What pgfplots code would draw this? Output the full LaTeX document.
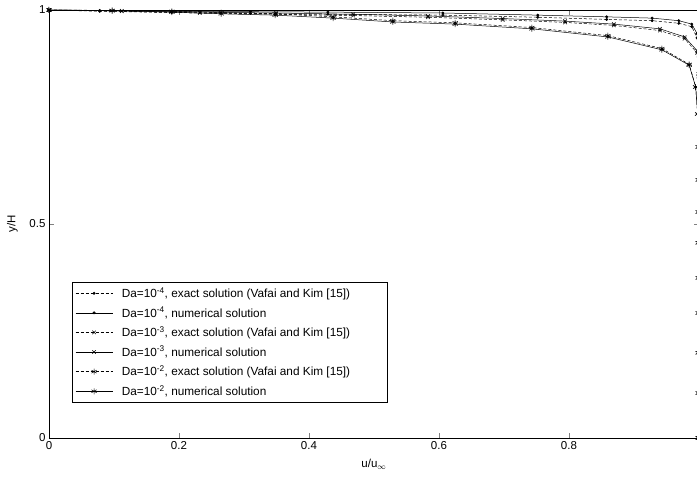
\documentclass[border=0pt]{standalone}
\usepackage{pgfplots}
\pgfplotsset{compat=1.18}
\usepackage{fontspec}
\setmainfont{Liberation Sans}
\begin{document}
\begin{tikzpicture}
\begin{axis}[
    width=650pt, height=428pt, scale only axis,
    xmin=0, xmax=1, ymin=0, ymax=1,
    xtick={0,0.2,0.4,0.6,0.8}, ytick={0,0.5,1},
    tick align=inside, major tick length=5pt,
    /pgf/number format/assume math mode=true,
    tick label style={font=\fontsize{11.5}{13}\selectfont},
    label style={font=\fontsize{11.5}{13}\selectfont},
    xlabel={u/u$_\infty$}, ylabel={y/H},
    xlabel style={at={(axis description cs:0.5,0)}, anchor=north, yshift=-21pt, inner sep=0pt},
    ylabel style={at={([xshift=-31pt]axis description cs:0,0.5)}, anchor=south, inner sep=0pt},
    axis line style={line width=0.6pt},
    clip=false,
    every axis plot/.append style={black, line width=0.5pt},
    legend style={at={(0.0354,0.082)}, anchor=south west, draw=black, line width=0.6pt,
        font=\fontsize{11.8}{13}\selectfont, row sep=4pt, inner xsep=3pt, inner ysep=3.5pt},
    legend cell align={left},
    legend image code/.code={\draw[mark repeat=2,mark phase=2] plot coordinates {(0pt,0pt) (18.5pt,0pt) (37pt,0pt)};
        \path (44pt,0pt);},
]
% Da=1e-4
\addplot[densely dashed, mark=*, mark size=1.2pt, mark options={solid}] coordinates {
(0,1.000) (0.078,0.997) (0.189,0.994) (0.310,0.992) (0.429,0.990) (0.606,0.988) (0.752,0.983)
(0.858,0.978) (0.928,0.975) (0.969,0.969) (0.989,0.961) (0.997,0.935) (0.999,0.890) (0.999,0.000)};
\addlegendentry{Da=10\textsuperscript{-4}, exact solution (Vafai and Kim [15])\hspace*{32pt}}
\addplot[solid, mark=*, mark size=1.2pt] coordinates {
(0,1.000) (0.078,0.999) (0.189,0.997) (0.310,0.996) (0.429,0.995) (0.606,0.993) (0.752,0.988)
(0.858,0.984) (0.928,0.981) (0.969,0.975) (0.989,0.967) (0.997,0.945) (0.999,0.900) (0.999,0.000)};
\addlegendentry{Da=10\textsuperscript{-4}, numerical solution}
% Da=1e-3
\addplot[densely dashed, mark=x, mark size=2.5pt, mark options={solid}] coordinates {
(0,1.000) (0.112,0.997) (0.232,0.993) (0.349,0.990) (0.468,0.987) (0.583,0.983) (0.698,0.977)
(0.794,0.971) (0.869,0.964) (0.940,0.952) (0.978,0.933) (0.997,0.900) (0.999,0.845) (0.999,0.000)};
\addlegendentry{Da=10\textsuperscript{-3}, exact solution (Vafai and Kim [15])}
\addplot[solid, mark=x, mark size=2.5pt] coordinates {
(0,1.000) (0.112,0.998) (0.232,0.995) (0.349,0.993) (0.468,0.990) (0.583,0.986) (0.698,0.980)
(0.794,0.974) (0.869,0.967) (0.940,0.956) (0.978,0.937) (0.997,0.905) (0.999,0.850) (0.999,0.000)};
\addlegendentry{Da=10\textsuperscript{-3}, numerical solution}
% Da=1e-2
\addplot[densely dashed, mark=asterisk, mark size=3pt, mark options={solid}] coordinates {
(0,1.000) (0.097,0.999) (0.189,0.997) (0.265,0.994) (0.348,0.991) (0.437,0.984) (0.529,0.975)
(0.625,0.970) (0.743,0.959) (0.860,0.940) (0.943,0.910) (0.985,0.873) (0.995,0.820) (0.998,0.757)
(0.999,0.680) (0.999,0.603) (0.999,0.528) (0.999,0.456) (0.999,0.374) (0.999,0.292) (0.999,0.199)
(0.999,0.105) (0.999,0.000)};
\addlegendentry{Da=10\textsuperscript{-2}, exact solution (Vafai and Kim [15])}
\addplot[solid, mark=asterisk, mark size=3pt] coordinates {
(0,1.000) (0.097,0.998) (0.189,0.995) (0.265,0.991) (0.348,0.988) (0.437,0.981) (0.529,0.972)
(0.625,0.967) (0.743,0.956) (0.860,0.937) (0.943,0.907) (0.985,0.871) (0.995,0.820) (0.998,0.757)
(0.999,0.680) (0.999,0.603) (0.999,0.528) (0.999,0.456) (0.999,0.374) (0.999,0.292) (0.999,0.199)
(0.999,0.105) (0.999,0.000)};
\addlegendentry{Da=10\textsuperscript{-2}, numerical solution}
\coordinate (BL) at (axis cs:0,0);
\coordinate (TR) at (axis cs:0.997,1);
\end{axis}
\pgfresetboundingbox
\path[use as bounding box] ([shift={(-49pt,-43pt)}]BL) rectangle ([shift={(0pt,10pt)}]TR);
\end{tikzpicture}
\end{document}
